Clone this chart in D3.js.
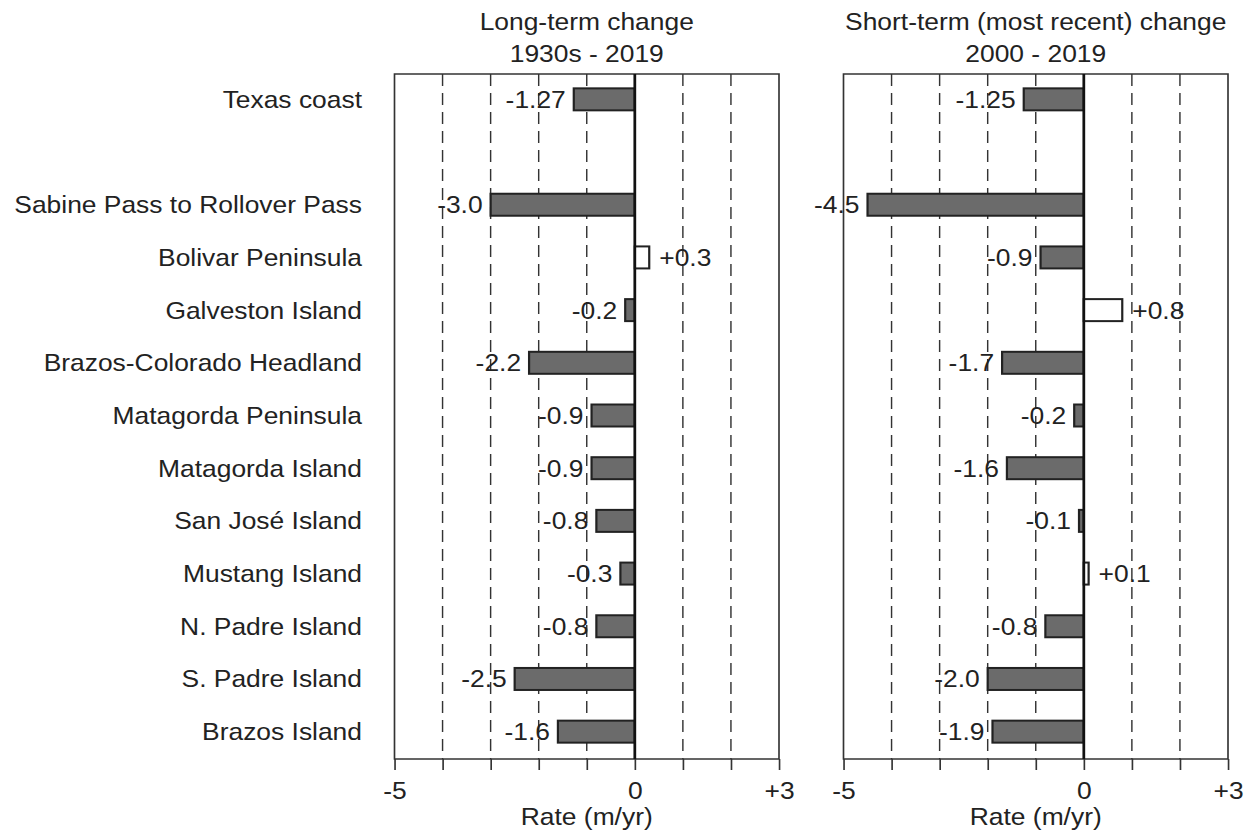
<!DOCTYPE html>
<html>
<head>
<meta charset="utf-8">
<script src="https://cdn.jsdelivr.net/npm/d3@7"></script>
<style>
  body { margin: 0; background: #fff; }
  svg text { font-family: "Liberation Sans", Arial, sans-serif; fill: #222; }
</style>
</head>
<body>
<div id="chart"></div>
<script>
const categories = [
  "Texas coast",
  "Sabine Pass to Rollover Pass",
  "Bolivar Peninsula",
  "Galveston Island",
  "Brazos-Colorado Headland",
  "Matagorda Peninsula",
  "Matagorda Island",
  "San José Island",
  "Mustang Island",
  "N. Padre Island",
  "S. Padre Island",
  "Brazos Island"
];

const longTerm = [-1.27, -3.0, 0.3, -0.2, -2.2, -0.9, -0.9, -0.8, -0.3, -0.8, -2.5, -1.6];
const longLabels = ["-1.27", "-3.0", "+0.3", "-0.2", "-2.2", "-0.9", "-0.9", "-0.8", "-0.3", "-0.8", "-2.5", "-1.6"];

const shortTerm = [-1.25, -4.5, -0.9, 0.8, -1.7, -0.2, -1.6, -0.1, 0.1, -0.8, -2.0, -1.9];
const shortLabels = ["-1.25", "-4.5", "-0.9", "+0.8", "-1.7", "-0.2", "-1.6", "-0.1", "+0.1", "-0.8", "-2.0", "-1.9"];

const panelTitles = [
  ["Long-term change", "1930s - 2019"],
  ["Short-term (most recent) change", "2000 - 2019"]
];

const tickValues = [-5, -4, -3, -2, -1, 0, 1, 2, 3];
const tickLabels = {"-5": "-5", "0": "0", "3": "+3"};

const width = 1250;
const height = 833;
const sx = 1.1; // the source text is slightly wide
const fontSize = 24;
const yTop = 74, yBottom = 759;

const svg = d3.select("#chart")
    .append("svg")
    .attr("width", width)
    .attr("height", height);

const root = svg.append("g")
    .attr("transform", `scale(${sx},1)`);

// slot 1 is left empty between "Texas coast" and the segments
const slot = i => i === 0 ? 0 : i + 1;
const yScale = d3.scaleBand()
    .domain(d3.range(13))
    .range([yTop - 1, yBottom - 1]);
const barH = 22;

root.append("g")
    .selectAll("text")
    .data(categories)
    .join("text")
    .attr("x", 362 / sx)
    .attr("y", (d, i) => yScale(slot(i)) + yScale.bandwidth() / 2)
    .attr("dy", "0.35em")
    .attr("text-anchor", "end")
    .style("font-size", fontSize + "px")
    .text(d => d);

const panels = [
  {x0: 394.5, x1: 779, values: longTerm, labels: longLabels, title: panelTitles[0]},
  {x0: 843.5, x1: 1228, values: shortTerm, labels: shortLabels, title: panelTitles[1]}
];

panels.forEach(p => {
  const xScale = d3.scaleLinear()
      .domain([-5, 3])
      .range([p.x0 / sx, p.x1 / sx]);

  const g = root.append("g");
  const cx = (xScale(-5) + xScale(3)) / 2;

  g.selectAll(".title")
      .data(p.title)
      .join("text")
      .attr("class", "title")
      .attr("x", cx)
      .attr("y", (d, i) => 30 + i * 32)
      .attr("text-anchor", "middle")
      .style("font-size", fontSize + "px")
      .text(d => d);

  // dashed grid
  g.selectAll(".grid")
      .data(tickValues.filter(v => v !== -5 && v !== 0 && v !== 3))
      .join("line")
      .attr("class", "grid")
      .attr("x1", d => xScale(d))
      .attr("x2", d => xScale(d))
      .attr("y1", yTop)
      .attr("y2", yBottom)
      .attr("stroke", "#333")
      .attr("stroke-width", 1.3)
      .attr("stroke-dasharray", "12,7");

  // box
  g.append("rect")
      .attr("x", xScale(-5))
      .attr("y", yTop)
      .attr("width", xScale(3) - xScale(-5))
      .attr("height", yBottom - yTop)
      .attr("fill", "none")
      .attr("stroke", "#333")
      .attr("stroke-width", 1.5);

  const axis = g.append("g")
      .attr("transform", `translate(0,${yBottom})`)
      .call(d3.axisBottom(xScale)
          .tickValues(tickValues)
          .tickSize(11)
          .tickSizeOuter(0)
          .tickPadding(12)
          .tickFormat(d => tickLabels[d] || ""));
  axis.select(".domain").remove();
  axis.selectAll("line").attr("stroke", "#333").attr("stroke-width", 1.5);
  axis.selectAll("text")
      .style("font-size", fontSize + "px")
      .attr("font-family", null)
      .attr("fill", "#222");
  axis.attr("font-family", null).attr("font-size", null);

  g.append("text")
      .attr("x", cx)
      .attr("y", 825)
      .attr("text-anchor", "middle")
      .style("font-size", fontSize + "px")
      .text("Rate (m/yr)");

  const rows = p.values.map((v, i) => ({v, label: p.labels[i], i}));

  g.selectAll(".bar")
      .data(rows)
      .join("rect")
      .attr("class", "bar")
      .attr("x", d => xScale(Math.min(0, d.v)))
      .attr("y", d => yScale(slot(d.i)) + yScale.bandwidth() / 2 - barH / 2)
      .attr("width", d => Math.abs(xScale(d.v) - xScale(0)))
      .attr("height", barH)
      .attr("fill", d => d.v < 0 ? "#6b6b6b" : "#fff")
      .attr("stroke", "#222")
      .attr("stroke-width", 2);

  g.selectAll(".val")
      .data(rows)
      .join("text")
      .attr("class", "val")
      .attr("x", d => d.v < 0 ? xScale(d.v) - 8 / sx : xScale(d.v) + 10 / sx)
      .attr("y", d => yScale(slot(d.i)) + yScale.bandwidth() / 2)
      .attr("dy", "0.35em")
      .attr("text-anchor", d => d.v < 0 ? "end" : "start")
      .style("font-size", fontSize + "px")
      .text(d => d.label);

  g.append("line")
      .attr("x1", xScale(0))
      .attr("x2", xScale(0))
      .attr("y1", yTop)
      .attr("y2", yBottom)
      .attr("stroke", "#111")
      .attr("stroke-width", 2.5);
});
</script>
</body>
</html>
